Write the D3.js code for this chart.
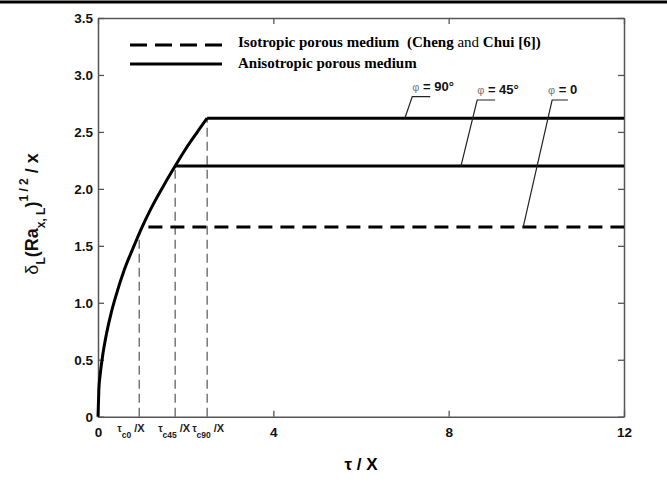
<!DOCTYPE html>
<html>
<head>
<meta charset="utf-8">
<script src="https://cdn.jsdelivr.net/npm/d3@7"></script>
<style>
  body { margin: 0; background: #fff; }
  svg { display: block; }
</style>
</head>
<body>
<div id="chart"></div>
<script>
// curve (tau/X vs delta)
const curveT = [0, 0.02, 0.05, 0.1, 0.2, 0.3, 0.4, 0.6, 0.8, 1.0, 1.2, 1.5, 1.76, 2.0, 2.25, 2.49];
const curveD = [0, 0.24, 0.37, 0.52, 0.74, 0.91, 1.05, 1.29, 1.48, 1.66, 1.82, 2.03, 2.20, 2.35, 2.49, 2.62];

// plateaus: isotropic (phi = 0), phi = 45, phi = 90
const plateauStart = [1.15, 1.76, 2.49];
const plateauD = [1.665, 2.20, 2.62];
const plateauDash = [true, false, false];

// critical times (vertical dashed lines)
const critT = [0.94, 1.76, 2.49];
const critTop = [1.56, 2.20, 2.62];
const critSub = ['c0', 'c45', 'c90'];
const critShift = [-22, -17, -15];

const xTicks = [0, 4, 8, 12];
const yTicks = [0, 0.5, 1.0, 1.5, 2.0, 2.5, 3.0, 3.5];

// phi labels: text, leader from point on line to elbow, elbow end
const phiText = ['90°', '45°', '0'];
const phiFrom = [[7.0, 2.62], [8.28, 2.20], [9.70, 1.665]];
const phiElbow = [[7.17, 2.81], [8.65, 2.78], [10.36, 2.78]];
const phiEnd = [7.58, 9.06, 10.72];

const W = 667, H = 487;
const margin = {left: 98, right: 43, top: 18, bottom: 70};

const svg = d3.select('#chart').append('svg')
  .attr('width', W).attr('height', H);

// rule at the top of the page
svg.append('line')
  .attr('x1', 0).attr('x2', W).attr('y1', 2).attr('y2', 2)
  .attr('stroke', '#000').attr('stroke-width', 3);

const x = d3.scaleLinear().domain([0, 12]).range([margin.left, W - margin.right]);
const y = d3.scaleLinear().domain([0, 3.5]).range([H - margin.bottom - 0.3, margin.top]);

const tickFont = 'Arial, "Liberation Sans", sans-serif';

function styleAxis(g) {
  g.select('.domain').attr('stroke', '#555').attr('stroke-width', 1.5);
  g.selectAll('.tick line').attr('stroke', '#555').attr('stroke-width', 1.3);
  g.selectAll('.tick text')
    .attr('font-family', tickFont).attr('font-weight', 'bold')
    .attr('font-size', 13.5).attr('fill', '#111');
}

svg.append('g')
  .attr('transform', `translate(0,${y(0)})`)
  .call(d3.axisBottom(x).tickValues(xTicks).tickFormat(d3.format('d'))
    .tickSizeInner(-6).tickSizeOuter(0).tickPadding(11))
  .call(styleAxis);

svg.append('g')
  .attr('transform', `translate(0,${y(3.5)})`)
  .call(d3.axisTop(x).tickValues(xTicks).tickFormat('')
    .tickSizeInner(-6).tickSizeOuter(0))
  .call(styleAxis);

svg.append('g')
  .attr('transform', `translate(${x(0)},0)`)
  .call(d3.axisLeft(y).tickValues(yTicks)
    .tickFormat(d => d === 0 ? '0' : d3.format('.1f')(d))
    .tickSizeInner(-6).tickSizeOuter(0).tickPadding(5))
  .call(styleAxis);

svg.append('g')
  .attr('transform', `translate(${x(12)},0)`)
  .call(d3.axisRight(y).tickValues(yTicks).tickFormat('')
    .tickSizeInner(-6).tickSizeOuter(0))
  .call(styleAxis);

// vertical dashed lines at critical times
critT.forEach(function(t, i) {
  svg.append('line')
    .attr('x1', x(t)).attr('x2', x(t))
    .attr('y1', y(0)).attr('y2', y(critTop[i]))
    .attr('stroke', '#555').attr('stroke-width', 1.2)
    .attr('stroke-dasharray', '9,5');

  const lab = svg.append('text')
    .attr('x', x(t) + critShift[i]).attr('y', y(0) + 15)
    .attr('font-family', tickFont).attr('font-weight', 'bold')
    .attr('font-size', 10).attr('fill', '#222');
  lab.append('tspan').text('τ');
  lab.append('tspan').attr('dy', 6).attr('font-size', 8.5).text(critSub[i]);
  lab.append('tspan').attr('dy', -6).attr('dx', 3).attr('font-size', 11).text('/X');
});

// plateaus
plateauD.forEach(function(d, i) {
  svg.append('line')
    .attr('x1', x(plateauStart[i])).attr('x2', x(12))
    .attr('y1', y(d)).attr('y2', y(d))
    .attr('stroke', '#000').attr('stroke-width', 3)
    .attr('stroke-dasharray', plateauDash[i] ? '14,8' : null);
});

// transient curve
const line = d3.line()
  .x((d, i) => x(curveT[i]))
  .y(d => y(d))
  .curve(d3.curveMonotoneX);

svg.append('path')
  .datum(curveD)
  .attr('d', line)
  .attr('fill', 'none')
  .attr('stroke', '#000')
  .attr('stroke-width', 3);

// phi labels with leaders
phiText.forEach(function(txt, i) {
  svg.append('polyline')
    .attr('points', [
      [x(phiFrom[i][0]), y(phiFrom[i][1])],
      [x(phiElbow[i][0]), y(phiElbow[i][1])],
      [x(phiEnd[i]), y(phiElbow[i][1])]
    ].map(p => p.join(',')).join(' '))
    .attr('fill', 'none').attr('stroke', '#222').attr('stroke-width', 1.2);

  const t = svg.append('text')
    .attr('x', x(phiElbow[i][0]) - (i === 2 ? 4 : 0))
    .attr('y', y(phiElbow[i][1]) - 6)
    .attr('font-family', tickFont).attr('font-size', 13).attr('fill', '#111');
  t.append('tspan').attr('fill', '#777').attr('font-size', 11).text('φ');
  t.append('tspan').attr('font-weight', 'bold').text(' = ' + txt);
});

// legend
const serif = '"Liberation Serif", "Times New Roman", serif';
svg.append('line')
  .attr('x1', 130).attr('x2', 222).attr('y1', 45).attr('y2', 45)
  .attr('stroke', '#000').attr('stroke-width', 3)
  .attr('stroke-dasharray', '17,8');
svg.append('line')
  .attr('x1', 130).attr('x2', 222).attr('y1', 64).attr('y2', 64)
  .attr('stroke', '#000').attr('stroke-width', 3);

svg.append('text')
  .attr('x', 238).attr('y', 47)
  .attr('font-family', serif).attr('font-size', 15).attr('font-weight', 'bold')
  .text('Isotropic porous medium');

const leg1 = svg.append('text')
  .attr('x', 407).attr('y', 47)
  .attr('font-family', serif).attr('font-size', 15).attr('font-weight', 'bold');
leg1.append('tspan').text('(Cheng ');
leg1.append('tspan').attr('font-weight', 'normal').text('and');
leg1.append('tspan').text(' Chui [6])');

svg.append('text')
  .attr('x', 238).attr('y', 68)
  .attr('font-family', serif).attr('font-size', 15).attr('font-weight', 'bold')
  .text('Anisotropic porous medium');

// axis titles
svg.append('text')
  .attr('x', (x(0) + x(12)) / 2).attr('y', 470)
  .attr('text-anchor', 'middle')
  .attr('font-family', tickFont).attr('font-weight', 'bold').attr('font-size', 17)
  .text('τ / X');

const yl = svg.append('text')
  .attr('transform', `translate(38,${y(1.78)}) rotate(-90)`)
  .attr('text-anchor', 'middle')
  .attr('font-family', tickFont).attr('font-weight', 'bold').attr('font-size', 18)
  .attr('fill', '#111');
yl.append('tspan').attr('font-weight', 'normal').text('δ');
yl.append('tspan').attr('dy', 7).attr('font-size', 12).text('L');
yl.append('tspan').attr('dy', -7).text('(Ra');
yl.append('tspan').attr('dy', 7).attr('font-size', 12).text('x, L');
yl.append('tspan').attr('dy', -7).text(')');
yl.append('tspan').attr('dy', -10).attr('font-size', 12).text('1 / 2');
yl.append('tspan').attr('dy', 10).text(' / x');
</script>
</body>
</html>
